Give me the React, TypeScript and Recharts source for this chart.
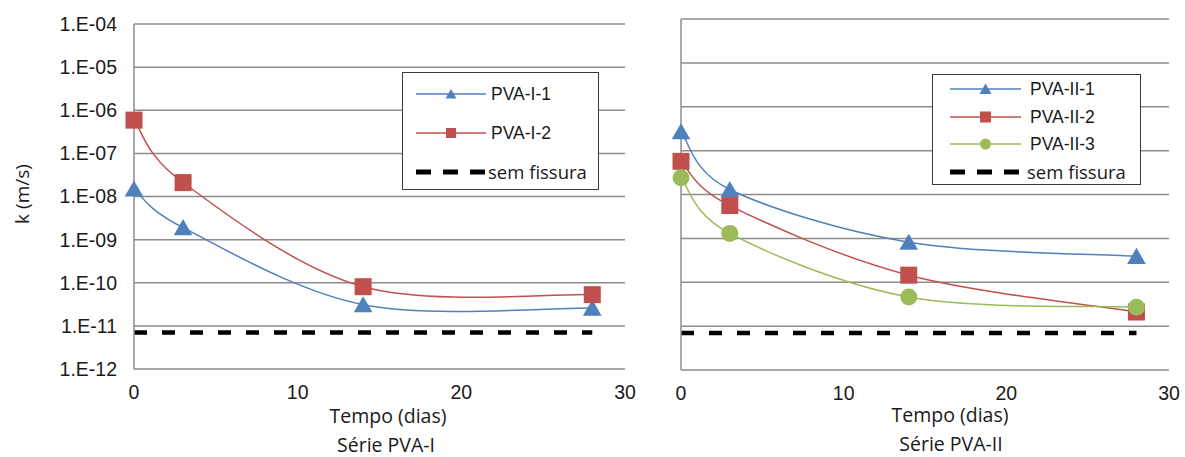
import React from 'react';
import { LineChart, Line, XAxis, YAxis, CartesianGrid, Legend } from 'recharts';

// tempo (dias) em que k foi medido
const TIME = [0, 3, 14, 28];

// Série PVA-I
const PVA_I_1 = [1.5e-8, 1.9e-9, 3.1e-11, 2.6e-11];
const PVA_I_2 = [5.9e-7, 2.1e-8, 8.1e-11, 5.3e-11];

// Série PVA-II
const PVA_II_1 = [2.7e-7, 1.3e-8, 8.2e-10, 3.9e-10];
const PVA_II_2 = [5.7e-8, 5.6e-9, 1.45e-10, 2.1e-11];
const PVA_II_3 = [2.4e-8, 1.3e-9, 4.6e-11, 2.7e-11];

// referência sem fissura
const SEM_FISSURA_T = [0, 28];
const SEM_FISSURA_K = [7e-12, 7e-12];

const Y_TICKS = [1e-12, 1e-11, 1e-10, 1e-9, 1e-8, 1e-7, 1e-6, 1e-5, 1e-4];
const X_TICKS = [0, 10, 20, 30];

const BLUE = '#4F81BD';
const RED = '#C0504D';
const GREEN = '#9BBB59';
const GRID = '#8C8C8C';
const TEXT = '#1a1a1a';
const ARIAL = '"Liberation Sans", Arial, sans-serif';
const SEGOE = '"Open Sans", "Noto Sans", sans-serif';

type Shape = 'triangle' | 'square' | 'circle' | 'dash';
type Pt = { t: number; k: number };

interface SeriesDef {
  name: string;
  color: string;
  shape: Shape;
  data: Pt[];
}

const toPoints = (t: number[], k: number[]): Pt[] => t.map((x, i) => ({ t: x, k: k[i] }));

const fmtExp = (v: number) => `1.E-${String(Math.round(-Math.log10(v))).padStart(2, '0')}`;

// Excel-like smoothed line (Catmull-Rom as cubic beziers)
const excelSmooth = (context: any) => {
  let pts: [number, number][] = [];
  return {
    areaStart() {},
    areaEnd() {},
    lineStart() {
      pts = [];
    },
    point(x: number, y: number) {
      pts.push([+x, +y]);
    },
    lineEnd() {
      const n = pts.length;
      if (!n) return;
      context.moveTo(pts[0][0], pts[0][1]);
      for (let i = 0; i < n - 1; i++) {
        const p0 = pts[Math.max(0, i - 1)];
        const p1 = pts[i];
        const p2 = pts[i + 1];
        const p3 = pts[Math.min(n - 1, i + 2)];
        context.bezierCurveTo(
          p1[0] + (p2[0] - p0[0]) / 6,
          p1[1] + (p2[1] - p0[1]) / 6,
          p2[0] - (p3[0] - p1[0]) / 6,
          p2[1] - (p3[1] - p1[1]) / 6,
          p2[0],
          p2[1]
        );
      }
    },
  };
};

const markerEl = (shape: Shape, color: string, cx: number, cy: number, s: number, key?: string) => {
  if (shape === 'triangle')
    return (
      <path
        key={key}
        d={`M${cx},${cy - s * 0.5} L${cx + s * 0.55},${cy + s * 0.45} L${cx - s * 0.55},${cy + s * 0.45} Z`}
        fill={color}
      />
    );
  if (shape === 'square')
    return <rect key={key} x={cx - s / 2} y={cy - s / 2} width={s} height={s} fill={color} />;
  if (shape === 'circle') return <circle key={key} cx={cx} cy={cy} r={s / 2} fill={color} />;
  return <g key={key} />;
};

interface LegendCfg {
  left: number;
  top: number;
  width: number;
  height: number;
  rows: number[];
  sample: [number, number];
  textX: number;
  markerSize: number;
}

const LegendBox: React.FC<{ items: SeriesDef[]; cfg: LegendCfg }> = ({ items, cfg }) => (
  <div
    style={{
      width: cfg.width,
      height: cfg.height,
      border: '1.5px solid #3a3a3a',
      boxSizing: 'border-box',
      background: '#fff',
      position: 'relative',
    }}
  >
    {items.map((s, i) => (
      <div key={s.name} style={{ position: 'absolute', left: 0, top: cfg.rows[i] - 10, height: 20, width: '100%' }}>
        <svg width={cfg.textX} height={20} style={{ position: 'absolute', left: 0, top: 0 }}>
          {s.shape === 'dash' ? (
            <line x1={cfg.sample[0]} x2={cfg.sample[1]} y1={10} y2={10} stroke="#000" strokeWidth={5} strokeDasharray="15 12" />
          ) : (
            <>
              <line x1={cfg.sample[0]} x2={cfg.sample[1]} y1={10} y2={10} stroke={s.color} strokeWidth={1.5} />
              {markerEl(s.shape, s.color, (cfg.sample[0] + cfg.sample[1]) / 2, 10, cfg.markerSize)}
            </>
          )}
        </svg>
        <span
          style={{
            position: 'absolute',
            left: s.shape === 'dash' ? cfg.textX - 3 : cfg.textX,
            top: 0,
            lineHeight: '20px',
            whiteSpace: 'nowrap',
            color: TEXT,
            fontFamily: s.shape === 'dash' ? SEGOE : ARIAL,
            fontSize: s.shape === 'dash' ? 18.5 : 17.5,
          }}
        >
          {s.name}
        </span>
      </div>
    ))}
  </div>
);

interface PanelProps {
  width: number;
  height: number;
  margin: { top: number; right: number; bottom: number; left: number };
  yAxisWidth: number;
  showYLabels: boolean;
  series: SeriesDef[];
  legend: LegendCfg;
}

const Panel: React.FC<PanelProps> = ({ width, height, margin, yAxisWidth, showYLabels, series, legend }) => (
  <LineChart width={width} height={height} margin={margin}>
    <CartesianGrid vertical={false} stroke={GRID} strokeWidth={1.5} />
    <XAxis
      dataKey="t"
      type="number"
      domain={[0, 30]}
      ticks={X_TICKS}
      axisLine={false}
      tickLine={false}
      tickSize={0}
      tickMargin={16}
      height={30}
      tick={{ fill: TEXT, fontSize: 19.5, fontFamily: ARIAL }}
    />
    <XAxis
      xAxisId="top"
      orientation="top"
      dataKey="t"
      type="number"
      domain={[0, 30]}
      ticks={X_TICKS}
      allowDataOverflow
      mirror
      height={0}
      tickSize={6}
      axisLine={{ stroke: GRID, strokeWidth: 1.5 }}
      tickLine={{ stroke: GRID, strokeWidth: 1.5 }}
      tickFormatter={() => ''}
    />
    <YAxis
      scale="log"
      type="number"
      domain={[1e-12, 1e-4]}
      ticks={Y_TICKS}
      allowDataOverflow
      width={yAxisWidth}
      axisLine={{ stroke: GRID, strokeWidth: 1.5 }}
      tickLine={false}
      tickSize={0}
      tickMargin={17}
      tick={{ fill: TEXT, fontSize: 19.5, fontFamily: ARIAL }}
      tickFormatter={showYLabels ? fmtExp : () => ''}
    />
    <Legend
      layout="vertical"
      align="center"
      verticalAlign="middle"
      wrapperStyle={{ left: legend.left, top: legend.top, width: legend.width, height: legend.height }}
      content={() => <LegendBox items={series} cfg={legend} />}
    />
    {series.map((s) =>
      s.shape === 'dash' ? (
        <Line
          key={s.name}
          data={s.data}
          dataKey="k"
          name={s.name}
          type="linear"
          stroke="#000"
          strokeWidth={4.5}
          strokeDasharray="13 15"
          dot={false}
          activeDot={false}
          isAnimationActive={false}
        />
      ) : (
        <Line
          key={s.name}
          data={s.data}
          dataKey="k"
          name={s.name}
          type={excelSmooth as any}
          stroke={s.color}
          strokeWidth={1.5}
          dot={(p: any) => markerEl(s.shape, s.color, p.cx, p.cy, 17, `dot-${s.name}-${p.index}`)}
          activeDot={false}
          isAnimationActive={false}
        />
      )
    )}
  </LineChart>
);

const seriesI: SeriesDef[] = [
  { name: 'PVA-I-1', color: BLUE, shape: 'triangle', data: toPoints(TIME, PVA_I_1) },
  { name: 'PVA-I-2', color: RED, shape: 'square', data: toPoints(TIME, PVA_I_2) },
  { name: 'sem fissura', color: '#000', shape: 'dash', data: toPoints(SEM_FISSURA_T, SEM_FISSURA_K) },
];

const seriesII: SeriesDef[] = [
  { name: 'PVA-II-1', color: BLUE, shape: 'triangle', data: toPoints(TIME, PVA_II_1) },
  { name: 'PVA-II-2', color: RED, shape: 'square', data: toPoints(TIME, PVA_II_2) },
  { name: 'PVA-II-3', color: GREEN, shape: 'circle', data: toPoints(TIME, PVA_II_3) },
  { name: 'sem fissura', color: '#000', shape: 'dash', data: toPoints(SEM_FISSURA_T, SEM_FISSURA_K) },
];

const titleStyle = (x: number, y: number, size: number): React.CSSProperties => ({
  position: 'absolute',
  left: x,
  top: y,
  transform: 'translate(-50%, -50%)',
  whiteSpace: 'nowrap',
  lineHeight: '22px',
  fontFamily: SEGOE,
  fontSize: size,
  color: TEXT,
});

export default function App() {
  return (
    <div style={{ position: 'relative', width: 1185, height: 457, background: '#fff', overflow: 'hidden' }}>
      <style>{'body{margin:0}'}</style>
      <div style={{ position: 'absolute', left: 0, top: 0 }}>
        <Panel
          width={640}
          height={457}
          margin={{ top: 24, right: 15, bottom: 58, left: 0 }}
          yAxisWidth={134}
          showYLabels
          series={seriesI}
          legend={{
            left: 402,
            top: 72,
            width: 197,
            height: 118,
            rows: [21, 60, 99],
            sample: [13, 83],
            textX: 88,
            markerSize: 10,
          }}
        />
      </div>
      <div style={{ position: 'absolute', left: 640, top: 0 }}>
        <Panel
          width={545}
          height={457}
          margin={{ top: 19, right: 16, bottom: 57, left: 0 }}
          yAxisWidth={41}
          showYLabels={false}
          series={seriesII}
          legend={{
            left: 292,
            top: 74,
            width: 209,
            height: 111,
            rows: [14, 42, 69, 97],
            sample: [17, 88],
            textX: 97,
            markerSize: 11,
          }}
        />
      </div>
      <div style={{ ...titleStyle(22, 194, 19), transform: 'translate(-50%, -50%) rotate(-90deg)' }}>k (m/s)</div>
      <div style={titleStyle(388, 416, 19.5)}>Tempo (dias)</div>
      <div style={titleStyle(386, 445, 19.5)}>Série PVA-I</div>
      <div style={titleStyle(950, 415, 19.5)}>Tempo (dias)</div>
      <div style={titleStyle(951, 444, 19.5)}>Série PVA-II</div>
    </div>
  );
}
